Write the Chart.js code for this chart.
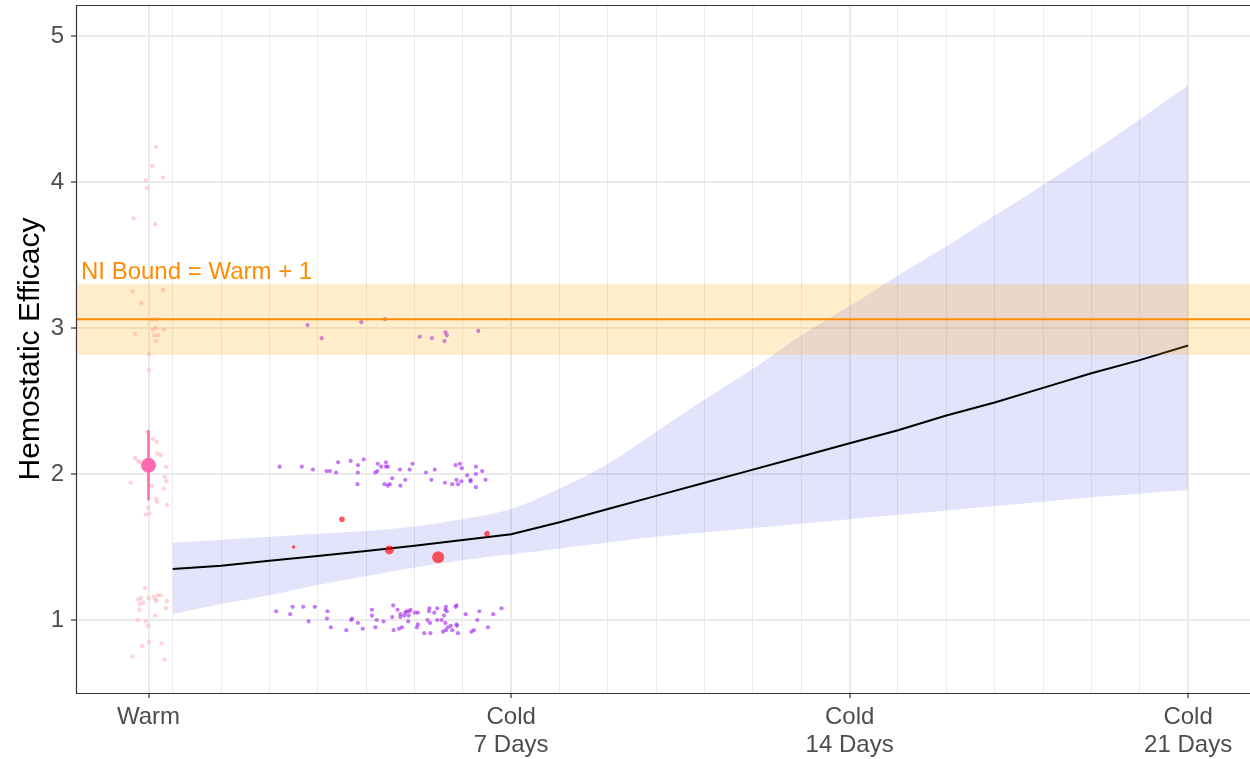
<!DOCTYPE html>
<html lang="en">
<head>
<meta charset="UTF-8">
<title>Hemostatic Efficacy</title>
<script src="https://cdn.jsdelivr.net/npm/chart.js@4.4.1/dist/chart.umd.min.js"></script>
<style>
  html, body { margin: 0; padding: 0; background: #fff; overflow: hidden; }
  canvas { display: block; }
</style>
</head>
<body>
<canvas id="myChart" width="1250" height="759"></canvas>
<script>
// x is in days of cold storage; "Warm" sits at -0.5
const majorTicks = [-0.5, 7, 14, 21];
const majorLabels = [['Warm'], ['Cold', '7 Days'], ['Cold', '14 Days'], ['Cold', '21 Days']];
const dayTicks = [0,1,2,3,4,5,6,7,8,9,10,11,12,13,14,15,16,17,18,19,20,21];
const yTicks = [1, 2, 3, 4, 5];

// warm group (jittered raw points)
const warmX = [-0.35,-0.42,-0.20,-0.56,-0.53,-0.81,-0.36,-0.83,-0.20,-0.65,-0.42,-0.33,-0.41,-0.35,-0.18,-0.78,-0.38,-0.30,-0.35,-0.49,-0.49,-0.52,-0.41,-0.33,-0.32,-0.25,-0.78,-0.72,-0.68,-0.14,-0.87,-0.16,-0.13,-0.43,-0.18,-0.34,-0.33,-0.12,-0.51,-0.48,-0.56,-0.57,-0.66,-0.50,-0.39,-0.31,-0.25,-0.36,-0.34,-0.12,-0.71,-0.61,-0.68,-0.69,-0.14,-0.36,-0.72,-0.56,-0.51,-0.49,-0.23,-0.63,-0.83,-0.17];
const warmY = [4.24,4.11,4.03,4.01,3.96,3.75,3.71,3.25,3.26,3.17,3.06,3.06,2.99,3.00,2.99,2.96,2.95,2.95,2.91,2.82,2.71,2.29,2.24,2.22,2.14,2.13,2.11,2.09,2.08,2.05,1.94,1.98,1.95,1.92,1.90,1.83,1.81,1.79,1.77,1.73,1.72,1.22,1.15,1.15,1.16,1.17,1.17,1.14,1.13,1.13,1.14,1.12,1.11,1.07,1.08,1.03,1.00,0.99,0.96,0.85,0.84,0.82,0.75,0.73];
const warmMean = 2.06;
const warmLo = 1.82;
const warmHi = 2.30;

// cold group raw points
const coldHiX = [2.79,3.08,3.90,4.39,5.11,5.36,5.62,5.64,5.67,6.32];
const coldHiY = [3.02,2.93,3.04,3.06,2.94,2.93,2.91,2.97,2.95,2.98];
const coldMidX = [2.21,2.67,2.90,3.18,3.25,3.38,3.42,3.68,3.83,3.95,3.83,3.82,4.24,4.41,4.31,4.41,4.45,4.23,4.19,4.38,4.54,4.45,4.49,4.71,4.70,4.81,4.90,4.96,5.24,5.35,5.42,5.63,5.78,5.90,5.85,5.94,5.98,5.87,5.97,6.09,6.16,6.16,6.27,6.27,6.40,6.27,6.47];
const coldMidY = [2.05,2.05,2.03,2.02,2.02,2.01,2.08,2.09,2.06,2.10,2.01,1.93,2.07,2.08,2.05,2.05,2.05,2.02,2.01,1.93,1.97,1.92,1.93,1.92,2.03,1.96,2.03,2.07,2.01,1.96,2.03,1.94,1.93,1.93,2.06,2.07,2.04,1.96,1.95,1.99,1.96,1.95,2.05,2.00,2.02,1.91,1.96];
const coldLoX = [2.14,2.43,2.48,2.70,2.94,2.81,3.20,3.19,3.27,3.59,3.69,3.71,3.83,3.93,4.12,4.12,4.22,4.19,4.36,4.56,4.65,4.54,4.57,4.68,4.74,4.71,4.71,4.79,4.81,4.84,4.89,4.92,4.88,4.87,5.01,5.07,5.07,5.05,5.20,5.33,5.31,5.30,5.41,5.47,5.27,5.32,5.47,5.56,5.59,5.65,5.61,5.64,5.65,5.64,5.67,5.69,5.75,5.78,5.87,5.88,5.90,5.85,5.87,6.06,6.30,6.34,6.18,6.23,6.52,6.63,6.80];
const coldLoY = [1.06,1.04,1.09,1.09,1.09,0.99,1.06,1.01,0.95,0.93,1.00,1.01,0.98,0.94,1.07,1.03,1.00,0.95,0.99,1.10,1.07,1.02,0.93,0.94,0.95,1.04,1.02,1.03,1.05,1.06,1.06,1.07,1.03,0.99,1.05,1.05,0.97,0.95,0.91,0.91,1.08,1.06,1.05,1.08,1.00,0.98,1.00,1.00,0.92,0.93,1.03,0.98,1.09,1.07,1.06,0.95,0.96,0.93,0.97,0.96,0.91,1.09,1.10,1.04,1.00,1.06,0.92,0.93,0.95,1.04,1.08];

// per-day means (size = n)
const dayMeanX = [2.50, 3.50, 4.48, 5.49, 6.50];
const dayMeanY = [1.50, 1.69, 1.48, 1.43, 1.59];
const dayMeanN = [1.8, 2.8, 4.5, 6.0, 2.8];

// fitted trend and confidence band
const fitY = [1.35,1.372,1.406,1.438,1.473,1.509,1.548,1.587,1.67,1.76,1.85,1.94,2.03,2.12,2.21,2.30,2.40,2.49,2.59,2.69,2.78,2.88];
const fitUpper = [1.53,1.55,1.57,1.59,1.61,1.64,1.69,1.76,1.90,2.07,2.29,2.51,2.72,2.95,3.15,3.36,3.56,3.77,3.98,4.20,4.43,4.66];
const fitLower = [1.04,1.11,1.17,1.24,1.30,1.36,1.41,1.45,1.49,1.53,1.57,1.60,1.63,1.66,1.69,1.72,1.75,1.78,1.81,1.84,1.865,1.89];

// non-inferiority bound
const niBound = 3.06;
const niLo = 2.815;
const niHi = 3.30;
const niText = 'NI Bound = Warm + 1';

const FONT = '"Liberation Sans", Arial, sans-serif';
const pts = (xs, ys) => xs.map((x, i) => ({x: x, y: ys[i]}));

const niPlugin = {
    id: 'niBand',
    afterDatasetsDraw(chart) {
        const {ctx, chartArea, scales} = chart;
        const y = scales.y;
        const top = y.getPixelForValue(niHi);
        const bot = y.getPixelForValue(niLo);
        const mid = y.getPixelForValue(niBound);
        ctx.save();
        ctx.fillStyle = 'rgba(255,165,0,0.2)';
        ctx.fillRect(chartArea.left, top, chartArea.right - chartArea.left, bot - top);
        ctx.strokeStyle = '#FF8C00';
        ctx.lineWidth = 2;
        ctx.beginPath();
        ctx.moveTo(chartArea.left, mid);
        ctx.lineTo(chartArea.right, mid);
        ctx.stroke();
        ctx.fillStyle = '#FF8C00';
        ctx.font = '24px ' + FONT;
        ctx.textAlign = 'left';
        ctx.textBaseline = 'alphabetic';
        ctx.fillText(niText, chartArea.left + 5, top - 5);
        // panel border
        ctx.strokeStyle = '#333333';
        ctx.lineWidth = 1.2;
        ctx.beginPath();
        ctx.moveTo(chartArea.right, chartArea.top + 0.5);
        ctx.lineTo(chartArea.left + 0.5, chartArea.top + 0.5);
        ctx.lineTo(chartArea.left + 0.5, chartArea.bottom + 0.5);
        ctx.lineTo(chartArea.right, chartArea.bottom + 0.5);
        ctx.stroke();
        ctx.restore();
    }
};

const isMajor = v => majorTicks.indexOf(v) >= 0;
const noPad = s => { s.paddingTop = 0; s.paddingBottom = 0; s.paddingLeft = 0; s.paddingRight = 0; };

const ctx = document.getElementById('myChart').getContext('2d');
const myChart = new Chart(ctx, {
    type: 'scatter',
    data: {
        datasets: [
            {
                type: 'scatter',
                data: [{x: majorTicks[0], y: warmMean}],
                backgroundColor: '#FF69B4',
                pointRadius: 7.5,
                pointBorderWidth: 0,
                order: 0
            },
            {
                type: 'line',
                data: [{x: majorTicks[0], y: warmLo}, {x: majorTicks[0], y: warmHi}],
                borderColor: '#FF69B4',
                borderWidth: 2.5,
                pointRadius: 0,
                fill: false,
                order: 1
            },
            {
                type: 'scatter',
                data: pts(dayMeanX, dayMeanY),
                backgroundColor: 'rgba(255,0,0,0.65)',
                pointRadius: dayMeanN,
                pointBorderWidth: 0,
                order: 2
            },
            {
                type: 'scatter',
                data: pts(coldHiX, coldHiY).concat(pts(coldMidX, coldMidY), pts(coldLoX, coldLoY)),
                backgroundColor: 'rgba(160,32,240,0.6)',
                pointRadius: 2.1,
                pointBorderWidth: 0,
                order: 3
            },
            {
                type: 'scatter',
                data: pts(warmX, warmY),
                backgroundColor: 'rgba(255,182,193,0.6)',
                pointRadius: 2.2,
                pointBorderWidth: 0,
                order: 4
            },
            {
                type: 'line',
                data: pts(dayTicks, fitY),
                borderColor: '#000000',
                borderWidth: 2,
                pointRadius: 0,
                tension: 0,
                fill: false,
                order: 5
            },
            {
                type: 'line',
                data: pts(dayTicks, fitUpper),
                borderWidth: 0,
                borderColor: 'rgba(0,0,0,0)',
                backgroundColor: 'rgba(0,0,230,0.11)',
                pointRadius: 0,
                cubicInterpolationMode: 'monotone',
                fill: '+1',
                order: 6
            },
            {
                type: 'line',
                data: pts(dayTicks, fitLower),
                borderWidth: 0,
                borderColor: 'rgba(0,0,0,0)',
                pointRadius: 0,
                cubicInterpolationMode: 'monotone',
                fill: false,
                order: 7
            }
        ]
    },
    options: {
        responsive: false,
        animation: false,
        events: [],
        layout: { autoPadding: false, padding: { top: 5, right: 0, left: 0, bottom: 0 } },
        plugins: {
            legend: { display: false },
            tooltip: { enabled: false }
        },
        scales: {
            x: {
                type: 'linear',
                min: -2.0,
                max: 22.28,
                afterBuildTicks: s => { s.ticks = [majorTicks[0]].concat(dayTicks).map(v => ({value: v})); },
                afterFit: s => { s.height = 66; noPad(s); },
                border: { display: false },
                grid: {
                    color: '#EBEBEB',
                    lineWidth: c => (c.tick && isMajor(c.tick.value)) ? 2 : 1,
                    tickColor: c => (c.tick && isMajor(c.tick.value)) ? '#333333' : 'rgba(0,0,0,0)',
                    tickLength: 5,
                    tickWidth: 1.2
                },
                ticks: {
                    autoSkip: false,
                    maxRotation: 0,
                    padding: 6,
                    color: '#4D4D4D',
                    font: { family: FONT, size: 24, lineHeight: 1.15 },
                    callback: v => {
                        const i = majorTicks.indexOf(v);
                        return i >= 0 ? majorLabels[i] : '';
                    }
                }
            },
            y: {
                min: 0.5,
                max: 5.212,
                afterBuildTicks: s => { s.ticks = yTicks.map(v => ({value: v})); },
                afterFit: s => { s.width = 76; noPad(s); },
                border: { display: false },
                grid: {
                    color: '#EBEBEB',
                    lineWidth: 2,
                    tickColor: '#333333',
                    tickLength: 5,
                    tickWidth: 1.2
                },
                ticks: {
                    padding: 7,
                    color: '#4D4D4D',
                    font: { family: FONT, size: 24 }
                },
                title: {
                    display: true,
                    text: 'Hemostatic Efficacy',
                    color: '#000000',
                    font: { family: FONT, size: 30 },
                    padding: { top: 13, bottom: 0 }
                }
            }
        }
    },
    plugins: [niPlugin]
});
</script>
</body>
</html>
